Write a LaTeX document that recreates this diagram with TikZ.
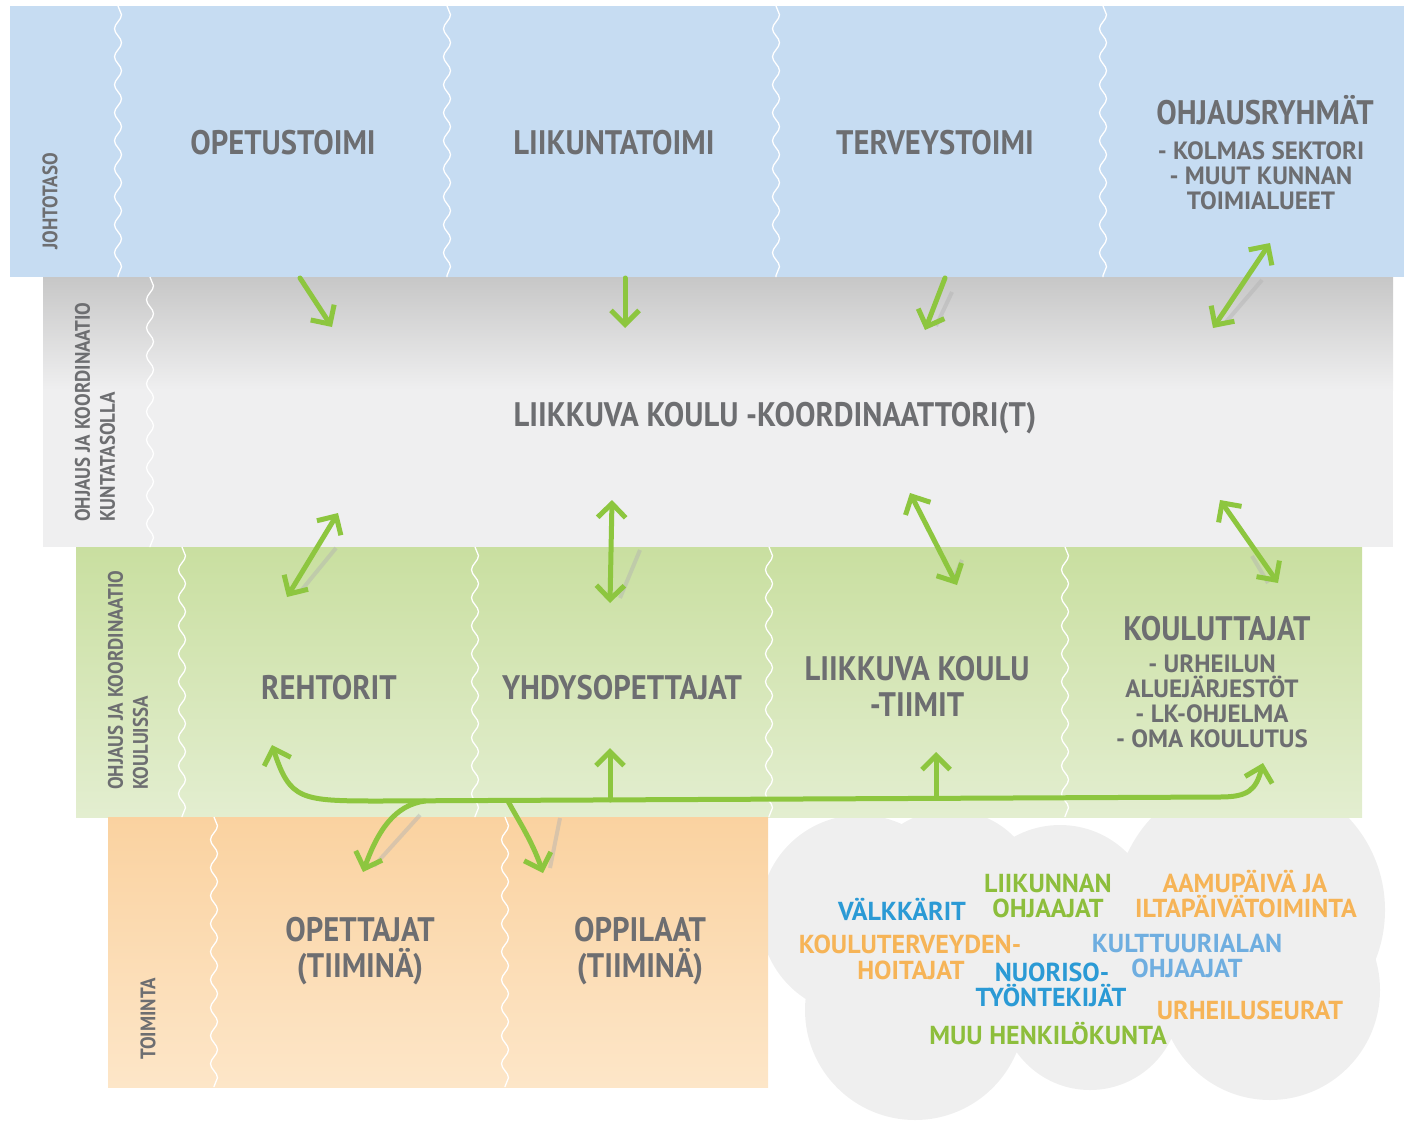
\documentclass[tikz,border=0pt]{standalone}
\usepackage{fontspec}
\setmainfont{PT Sans}[FakeStretch=0.9]
\newfontfamily\wordfont{PT Sans}[FakeStretch=1.0]
\usepackage{tikz}
\usetikzlibrary{arrows.meta, decorations.pathmorphing, positioning}
\definecolor{colorText}{HTML}{6D6E71}
\definecolor{colorBlueBand}{HTML}{C6DCF2}
\definecolor{colorGrayBand}{HTML}{EFEFF0}
\definecolor{colorGreenTop}{HTML}{C9DFA0}
\definecolor{colorGreenBot}{HTML}{E3EED0}
\definecolor{colorOrangeTop}{HTML}{FAD2A0}
\definecolor{colorOrangeBot}{HTML}{FDE6C8}
\definecolor{colorCloud}{HTML}{EFEFEF}
\definecolor{colorArrow}{HTML}{8DC63F}
\definecolor{colorWordBlue}{HTML}{2B9AD5}
\definecolor{colorWordSky}{HTML}{6FAEE0}
\definecolor{colorWordOrange}{HTML}{F6B457}
\definecolor{colorWordGreen}{HTML}{8DBE3C}
\tikzset{
  wave/.style={draw=white, line width=1.3pt, decorate, decoration={snake, segment length=28pt, amplitude=3.5pt}},
  label/.style={text=colorText, font=\bfseries\fontsize{34}{36}\selectfont, align=center},
  sublabel/.style={text=colorText, font=\wordfont\bfseries\fontsize{25}{25}\selectfont, align=center},
  side/.style={text=colorText, font=\bfseries\fontsize{21}{25}\selectfont, align=left, rotate=90, anchor=west, inner sep=0pt},
  word/.style={font=\wordfont\bfseries\fontsize{26}{25}\selectfont, anchor=base, inner sep=0pt},
  barb/.tip={Straight Barb[length=14pt,width=28pt]},
  link/.style={draw=colorArrow, line width=5pt, line cap=round, -barb},
  twoway/.style={link, barb-barb},
  shade line/.style={draw=black!30, line width=4pt, opacity=0.45},
}

\begin{document}
\begin{tikzpicture}[x=1pt, y=-1pt]
\useasboundingbox (0,0) rectangle (1404,1122);
% cloud of other actors
\fill[colorCloud] (860,915) circle (100) (950,900) circle (90) (1060,920) circle (95)
  (1250,910) circle (135) (915,1010) circle (110) (1090,1000) circle (90)
  (1270,990) circle (110);
% bands
\fill[colorBlueBand] (10,6) rectangle (1404,277);
\fill[colorGrayBand] (43,277) rectangle (1393,547);
\shade[top color=black!22, bottom color=colorGrayBand] (43,277) rectangle (1393,390);
\shade[top color=colorGreenTop, bottom color=colorGreenBot] (76,547) rectangle (1362,817);
\shade[top color=colorOrangeTop, bottom color=colorOrangeBot] (108,817) rectangle (768,1087);
\foreach \x in {118,447,776,1103} \draw[wave] (\x,6) -- (\x,277);
\draw[wave] (150,277) -- (150,547);
\foreach \x in {182,475,769,1065} \draw[wave] (\x,547) -- (\x,817);
\foreach \x in {214,505} \draw[wave] (\x,817) -- (\x,1087);

% johtotaso
\node[side] (johto) at (50,250) {JOHTOTASO};
\node[label] (opetus) at (283,143) {OPETUSTOIMI};
\node[label] (liikunta) at (614,143) {LIIKUNTATOIMI};
\node[label] (terveys) at (935,143) {TERVEYSTOIMI};
\node[label] (ohjaus) at (1265,110) {OHJAUSRYHMÄT};
\node[sublabel] (sektori) at (1261,176) {- KOLMAS SEKTORI\\- MUUT KUNNAN\\TOIMIALUEET};

% kuntataso
\node[side] (kunta) at (95,522) {OHJAUS JA KOORDINAATIO\\KUNTATASOLLA};
\node[label] (koord) at (775,418) {LIIKKUVA KOULU -KOORDINAATTORI(T)};

% kouluissa
\node[side] (koulu) at (128,790) {OHJAUS JA KOORDINAATIO\\KOULUISSA};
\node[label] (rehtorit) at (329,688) {REHTORIT};
\node[label] (yhdys) at (622,688) {YHDYSOPETTAJAT};
\node[label] (tiimit) at (917,686) {LIIKKUVA KOULU\\-TIIMIT};
\node[label] (kouluttajat) at (1217,629) {KOULUTTAJAT};
\node[sublabel] (koulutus) at (1212,701) {- URHEILUN\\ALUEJÄRJESTÖT\\- LK-OHJELMA\\- OMA KOULUTUS};

% toiminta
\node[side] (toiminta) at (148,1060) {TOIMINTA};
\node[label] (opettajat) at (360,951) {OPETTAJAT\\(TIIMINÄ)};
\node[label] (oppilaat) at (640,951) {OPPILAAT\\(TIIMINÄ)};

% cloud words, one line per node
\node[word, text=colorWordBlue] (valkkarit) at (902,920) {VÄLKKÄRIT};
\node[word, text=colorWordGreen] (liikunnan) at (1048,892) {LIIKUNNAN};
\node[word, text=colorWordGreen] (ohjaajat1) at (1048,917) {OHJAAJAT};
\node[word, text=colorWordOrange] (aamupaiva) at (1245,892) {AAMUPÄIVÄ JA};
\node[word, text=colorWordOrange] (iltapaiva) at (1246,917) {ILTAPÄIVÄTOIMINTA};
\node[word, text=colorWordOrange] (terveyden) at (910,953) {KOULUTERVEYDEN-};
\node[word, text=colorWordOrange] (hoitajat) at (911,979) {HOITAJAT};
\node[word, text=colorWordSky] (kulttuuri) at (1187,952) {KULTTUURIALAN};
\node[word, text=colorWordSky] (ohjaajat2) at (1187,977) {OHJAAJAT};
\node[word, text=colorWordBlue] (nuoriso) at (1052,981) {NUORISO-};
\node[word, text=colorWordBlue] (tyontekijat) at (1051,1006) {TYÖNTEKIJÄT};
\node[word, text=colorWordOrange] (seurat) at (1250,1019) {URHEILUSEURAT};
\node[word, text=colorWordGreen] (muu) at (1048,1044) {MUU HENKILÖKUNTA};

% arrow ends
\coordinate (a1) at (300,278);  \coordinate (b1) at (332,327);
\coordinate (a2) at (625,278);  \coordinate (b2) at (625,328);
\coordinate (a3) at (945,278);  \coordinate (b3) at (925,330);
\coordinate (a4) at (1270,243); \coordinate (b4) at (1213,328);
\coordinate (a5) at (338,513);  \coordinate (b5) at (287,597);
\coordinate (a6) at (612,500);  \coordinate (b6) at (610,603);
\coordinate (a7) at (910,493);  \coordinate (b7) at (957,585);
\coordinate (a8) at (1220,500); \coordinate (b8) at (1278,583);
\coordinate (rTip) at (272,745);  \coordinate (kTip) at (1263,763);
\coordinate (yTip) at (610,748);  \coordinate (tTip) at (936,752);
\coordinate (oTip) at (363,872);  \coordinate (pTip) at (543,873);
\coordinate (s1) at (425,801); \coordinate (s2) at (508,801);
\coordinate (s3) at (610,800); \coordinate (s4) at (936,797);

% shadows
\draw[shade line] (936,326) -- (952,292);
\draw[shade line] (1226,322) -- (1262,280);
\draw[shade line] (300,592) -- (336,548);
\draw[shade line] (620,598) -- (640,550);
\draw[shade line] (952,583) -- (962,560);
\draw[shade line] (1268,583) -- (1252,556);
\draw[shade line] (374,866) -- (420,815);
\draw[shade line] (550,868) -- (560,818);

% arrows
\draw[link] (a1) -- (b1);
\draw[link] (a2) -- (b2);
\draw[link] (a3) -- (b3);
\foreach \n in {4,...,8} \draw[twoway] (a\n) -- (b\n);
\draw[twoway] (rTip) .. controls (290,800) and (300,801) .. (380,801) -- (1220,797)
  .. controls (1248,797) and (1256,790) .. (kTip);
\draw[link] (s3) -- (yTip);
\draw[link] (s4) -- (tTip);
\draw[link] (s1) .. controls (395,805) and (378,830) .. (oTip);
\draw[link] (s2) .. controls (515,815) and (532,840) .. (pTip);
\end{tikzpicture}
\end{document}
